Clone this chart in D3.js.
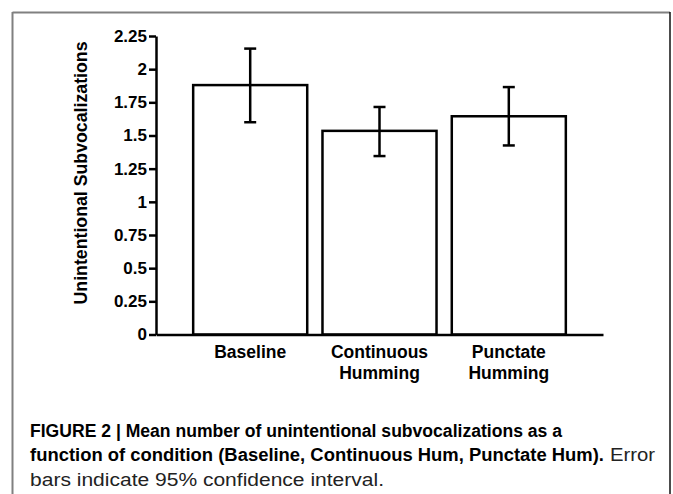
<!DOCTYPE html>
<html>
<head>
<meta charset="utf-8">
<script src="https://cdn.jsdelivr.net/npm/d3@7"></script>
<style>
  body { margin: 0; background: #fff; }
  svg { display: block; }
  .tick text { font-family: "Liberation Sans", Arial, sans-serif; font-weight: bold; fill: #000; }
</style>
</head>
<body>
<div id="chart"></div>
<script>
// Data
var categories = ["Baseline", "Continuous\nHumming", "Punctate\nHumming"];
var means = [1.88, 1.535, 1.645];
var ciLow = [1.60, 1.345, 1.425];
var ciHigh = [2.155, 1.715, 1.865];
var yTicks = [0, 0.25, 0.5, 0.75, 1, 1.25, 1.5, 1.75, 2, 2.25];
var yTickLabels = ["0", "0.25", "0.5", "0.75", "1", "1.25", "1.5", "1.75", "2", "2.25"];

var captionLines = [
  [{ text: "FIGURE 2 | Mean number of unintentional subvocalizations as a", bold: true, x: 30, w: 532 }],
  [{ text: "function of condition (Baseline, Continuous Hum, Punctate Hum).", bold: true, x: 30, w: 574 },
   { text: "Error", bold: false, x: 610, w: 45 }],
  [{ text: "bars indicate 95% confidence interval.", bold: false, x: 30, w: 354 }]
];

var svgWidth = 673;
var svgHeight = 494;

var svg = d3.select("#chart")
  .append("svg")
  .attr("width", svgWidth)
  .attr("height", svgHeight);

// frame around the figure
svg.append("line")
  .attr("x1", 12.5).attr("y1", 12.5).attr("x2", 670).attr("y2", 12.5)
  .attr("stroke", "#808080").attr("stroke-width", 2);
svg.append("line")
  .attr("x1", 12.5).attr("y1", 12).attr("x2", 12.5).attr("y2", svgHeight)
  .attr("stroke", "#808080").attr("stroke-width", 2);
svg.append("line")
  .attr("x1", 670).attr("y1", 12).attr("x2", 670).attr("y2", svgHeight)
  .attr("stroke", "#111").attr("stroke-width", 1.5);

// Scales
var xScale = d3.scaleBand()
  .domain(categories)
  .range([156, 603])
  .paddingInner(0.118)
  .paddingOuter(0.2875);

var yScale = d3.scaleLinear()
  .domain([0, 2.25])
  .range([334.5, 36]);

// Bars
var bars = svg.append("g");
bars.selectAll("rect")
  .data(means)
  .enter()
  .append("rect")
  .attr("x", (d, i) => xScale(categories[i]))
  .attr("y", d => yScale(d))
  .attr("width", xScale.bandwidth())
  .attr("height", d => yScale(0) - yScale(d))
  .attr("fill", "#fff")
  .attr("stroke", "#000")
  .attr("stroke-width", 2.5);

// Error bars
var errGroup = svg.append("g")
  .attr("stroke", "#000")
  .attr("stroke-width", 2.5);

categories.forEach(function(c, i) {
  var cx = xScale(c) + xScale.bandwidth() / 2;
  errGroup.append("line")
    .attr("x1", cx).attr("x2", cx)
    .attr("y1", yScale(ciLow[i])).attr("y2", yScale(ciHigh[i]));
  errGroup.append("line")
    .attr("x1", cx - 6).attr("x2", cx + 6)
    .attr("y1", yScale(ciLow[i])).attr("y2", yScale(ciLow[i]));
  errGroup.append("line")
    .attr("x1", cx - 6).attr("x2", cx + 6)
    .attr("y1", yScale(ciHigh[i])).attr("y2", yScale(ciHigh[i]));
});

// X axis
var bottomAxis = d3.axisBottom(xScale).tickSize(0).tickSizeOuter(0).tickPadding(0);
var xAxis = svg.append("g")
  .attr("transform", `translate(0, ${yScale(0)})`)
  .call(bottomAxis);
xAxis.select(".domain").attr("stroke", "#000").attr("stroke-width", 2.5);
xAxis.selectAll(".tick text")
  .style("font-size", "17.5px")
  .attr("y", 0)
  .attr("dy", null)
  .each(function(d) {
    var t = d3.select(this);
    t.text(null);
    d.split("\n").forEach(function(line, k) {
      t.append("tspan")
        .attr("x", 0)
        .attr("y", 23.5 + k * 21)
        .text(line);
    });
  });

// Y axis
var leftAxis = d3.axisLeft(yScale)
  .tickValues(yTicks)
  .tickFormat((d, i) => yTickLabels[i])
  .tickSize(7)
  .tickSizeOuter(0)
  .tickPadding(2);
var yAxis = svg.append("g")
  .attr("transform", "translate(156, 0)")
  .call(leftAxis);
yAxis.select(".domain").attr("stroke", "#000").attr("stroke-width", 2.5);
yAxis.selectAll(".tick line").attr("stroke", "#000").attr("stroke-width", 2.5);
yAxis.selectAll(".tick text").style("font-size", "17px");

// Y axis label
svg.append("text")
  .attr("transform", "translate(87, 173) rotate(-90)")
  .attr("text-anchor", "middle")
  .style("font-family", "'Liberation Sans', Arial, sans-serif")
  .style("font-weight", "bold")
  .style("font-size", "17.5px")
  .attr("textLength", 263)
  .attr("lengthAdjust", "spacingAndGlyphs")
  .text("Unintentional Subvocalizations");

// Caption
var captionBase = [436.5, 461, 486];
captionLines.forEach(function(parts, k) {
  parts.forEach(function(p) {
    svg.append("text")
      .attr("x", p.x)
      .attr("y", captionBase[k])
      .style("font-family", "'Liberation Sans Narrow', 'Liberation Sans', Arial, sans-serif")
      .style("font-weight", p.bold ? "bold" : "normal")
      .style("font-size", "17.5px")
      .attr("fill", p.bold ? "#000" : "#222")
      .attr("textLength", p.w)
      .attr("lengthAdjust", "spacingAndGlyphs")
      .text(p.text);
  });
});
</script>
</body>
</html>
